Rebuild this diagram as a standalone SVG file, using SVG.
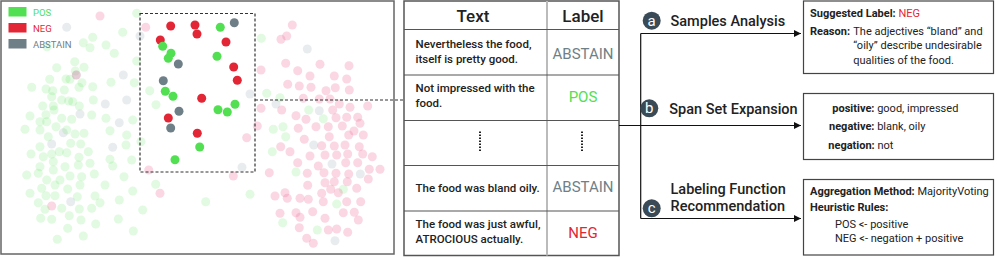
<svg xmlns="http://www.w3.org/2000/svg" width="997" height="257" viewBox="0 0 997 257">
<defs>
<marker id="arr" markerWidth="8" markerHeight="8" refX="7" refY="4" orient="auto" markerUnits="userSpaceOnUse">
<path d="M0,0.5 L7,4 L0,7.5 Z" fill="#111"/>
</marker>
</defs>
<style>
text{font-family:Roboto,"Liberation Sans",sans-serif;fill:#222}
.pg{fill:#4de04d;fill-opacity:.17}
.pp{fill:#f07aa0;fill-opacity:.3}
.px{fill:#9aa8b0;fill-opacity:.22}
.g{fill:#52e052}
.r{fill:#e32636}
.k{fill:#6f7f88}
.tb{font-size:11.5px;font-weight:500}
.lab{font-size:15px;text-anchor:middle}
.hd{font-size:17px;font-weight:500;text-anchor:middle}
.ttl{font-size:14.5px;font-weight:500}
.bx{fill:#fff;stroke:#444;stroke-width:1.2}
.bt{font-size:11px}
.bb{font-weight:700}
.badge{fill:#3a4b57}
.bl{fill:#fff;font-size:15px;text-anchor:middle}
.conn{fill:none;stroke:#111;stroke-width:1.2}
</style>
<rect width="997" height="257" fill="#fff"/>
<g id="scatter">
<rect x="1" y="1" width="393" height="253" fill="#fff" stroke="#666" stroke-width="1.5"/>
<g id="faint-dots">
<circle class="pp" cx="100" cy="16" r="4.5"/>
<circle class="pg" cx="136.7" cy="13.3" r="4.5"/>
<circle class="px" cx="66.7" cy="27.3" r="4.5"/>
<circle class="pp" cx="145.7" cy="27.3" r="4.5"/>
<circle class="pg" cx="122.7" cy="32.3" r="4.5"/>
<circle class="px" cx="140" cy="36" r="4.5"/>
<circle class="pg" cx="92.7" cy="37.3" r="4.5"/>
<circle class="pg" cx="83.3" cy="42.7" r="4.5"/>
<circle class="pg" cx="90" cy="47.7" r="4.5"/>
<circle class="pg" cx="106" cy="45" r="4.5"/>
<circle class="pg" cx="114.3" cy="53.3" r="4.5"/>
<circle class="pg" cx="47" cy="46.7" r="4.5"/>
<circle class="pg" cx="136.7" cy="61" r="4.5"/>
<circle class="pg" cx="74.7" cy="61.7" r="4.5"/>
<circle class="pg" cx="56.7" cy="67.7" r="4.5"/>
<circle class="pg" cx="84" cy="67.3" r="4.5"/>
<circle class="pg" cx="75.3" cy="71" r="4.5"/>
<circle class="pp" cx="76.3" cy="75" r="4.5"/>
<circle class="px" cx="76.3" cy="75" r="4.5"/>
<circle class="pg" cx="49.7" cy="79.3" r="4.5"/>
<circle class="pg" cx="66" cy="79" r="4.5"/>
<circle class="pg" cx="70" cy="79.3" r="4.5"/>
<circle class="pg" cx="82" cy="82.7" r="4.5"/>
<circle class="px" cx="123.3" cy="75" r="4.5"/>
<circle class="pg" cx="111" cy="82.3" r="4.5"/>
<circle class="pg" cx="134.3" cy="82.7" r="4.5"/>
<circle class="pg" cx="31.7" cy="87.3" r="4.5"/>
<circle class="pg" cx="46" cy="89" r="4.5"/>
<circle class="pg" cx="52.7" cy="90.7" r="4.5"/>
<circle class="pg" cx="64.3" cy="90" r="4.5"/>
<circle class="pg" cx="79" cy="87.3" r="4.5"/>
<circle class="pg" cx="92.7" cy="86.7" r="4.5"/>
<circle class="pg" cx="149.7" cy="90.7" r="4.5"/>
<circle class="pg" cx="51.7" cy="96.7" r="4.5"/>
<circle class="pg" cx="61.7" cy="100" r="4.5"/>
<circle class="pg" cx="68.7" cy="101" r="4.5"/>
<circle class="pg" cx="72.7" cy="101.7" r="4.5"/>
<circle class="pg" cx="93.3" cy="100" r="4.5"/>
<circle class="pg" cx="53.3" cy="106" r="4.5"/>
<circle class="pg" cx="42.7" cy="106" r="4.5"/>
<circle class="pg" cx="79.3" cy="106" r="4.5"/>
<circle class="px" cx="105.3" cy="104" r="4.5"/>
<circle class="px" cx="126.7" cy="100" r="4.5"/>
<circle class="pg" cx="156" cy="104.7" r="4.5"/>
<circle class="pg" cx="30" cy="116" r="4.5"/>
<circle class="pg" cx="46" cy="114.7" r="4.5"/>
<circle class="pg" cx="54" cy="110" r="4.5"/>
<circle class="pg" cx="40" cy="121.7" r="4.5"/>
<circle class="pg" cx="61.7" cy="118.3" r="4.5"/>
<circle class="pg" cx="71.7" cy="119.3" r="4.5"/>
<circle class="px" cx="80" cy="114" r="4.5"/>
<circle class="pg" cx="91.7" cy="115" r="4.5"/>
<circle class="pg" cx="106" cy="118.3" r="4.5"/>
<circle class="px" cx="119.3" cy="122.7" r="4.5"/>
<circle class="pg" cx="132.7" cy="120" r="4.5"/>
<circle class="pg" cx="46.7" cy="121.7" r="4.5"/>
<circle class="pg" cx="25" cy="129.3" r="4.5"/>
<circle class="pg" cx="40" cy="130" r="4.5"/>
<circle class="pg" cx="56" cy="126.7" r="4.5"/>
<circle class="px" cx="63.3" cy="132.7" r="4.5"/>
<circle class="pg" cx="66.7" cy="130" r="4.5"/>
<circle class="pg" cx="75" cy="134" r="4.5"/>
<circle class="pg" cx="84" cy="133.3" r="4.5"/>
<circle class="pg" cx="110" cy="130.7" r="4.5"/>
<circle class="pg" cx="126.7" cy="135" r="4.5"/>
<circle class="pg" cx="141" cy="141.7" r="4.5"/>
<circle class="pg" cx="48.3" cy="136.7" r="4.5"/>
<circle class="pg" cx="40" cy="146.7" r="4.5"/>
<circle class="px" cx="51.7" cy="144" r="4.5"/>
<circle class="pg" cx="70.7" cy="143.3" r="4.5"/>
<circle class="pg" cx="80.7" cy="144" r="4.5"/>
<circle class="px" cx="112.7" cy="147.3" r="4.5"/>
<circle class="pg" cx="126" cy="145" r="4.5"/>
<circle class="pg" cx="31" cy="154" r="4.5"/>
<circle class="pg" cx="43.3" cy="156.7" r="4.5"/>
<circle class="pg" cx="51.7" cy="154" r="4.5"/>
<circle class="pg" cx="59.3" cy="151.7" r="4.5"/>
<circle class="pg" cx="66.7" cy="152.7" r="4.5"/>
<circle class="pg" cx="79" cy="157.3" r="4.5"/>
<circle class="pg" cx="88.3" cy="151.7" r="4.5"/>
<circle class="pg" cx="110" cy="159.3" r="4.5"/>
<circle class="pg" cx="131.7" cy="160" r="4.5"/>
<circle class="pg" cx="40" cy="166.7" r="4.5"/>
<circle class="pg" cx="53.3" cy="161.7" r="4.5"/>
<circle class="pg" cx="65" cy="166.7" r="4.5"/>
<circle class="pg" cx="78.3" cy="165" r="4.5"/>
<circle class="pg" cx="90" cy="163.3" r="4.5"/>
<circle class="pg" cx="112.7" cy="166" r="4.5"/>
<circle class="pg" cx="26.7" cy="175" r="4.5"/>
<circle class="pg" cx="38.3" cy="173.3" r="4.5"/>
<circle class="pg" cx="46.7" cy="180" r="4.5"/>
<circle class="pg" cx="53.3" cy="170" r="4.5"/>
<circle class="pg" cx="60" cy="180" r="4.5"/>
<circle class="pg" cx="70" cy="176" r="4.5"/>
<circle class="pg" cx="81.7" cy="176.7" r="4.5"/>
<circle class="pg" cx="94.3" cy="174" r="4.5"/>
<circle class="pg" cx="124" cy="176.7" r="4.5"/>
<circle class="pg" cx="41.7" cy="188.3" r="4.5"/>
<circle class="pg" cx="55" cy="185" r="4.5"/>
<circle class="pg" cx="67.7" cy="189" r="4.5"/>
<circle class="pg" cx="80" cy="185" r="4.5"/>
<circle class="pg" cx="105" cy="185" r="4.5"/>
<circle class="pg" cx="132.7" cy="191" r="4.5"/>
<circle class="pg" cx="155.7" cy="184.3" r="4.5"/>
<circle class="pg" cx="30" cy="193.3" r="4.5"/>
<circle class="pg" cx="46" cy="195.7" r="4.5"/>
<circle class="pg" cx="55" cy="195.7" r="4.5"/>
<circle class="pg" cx="77.3" cy="196.7" r="4.5"/>
<circle class="pg" cx="95" cy="196" r="4.5"/>
<circle class="pg" cx="119.3" cy="200" r="4.5"/>
<circle class="px" cx="70.7" cy="201.7" r="4.5"/>
<circle class="pp" cx="51.7" cy="206" r="4.5"/>
<circle class="pg" cx="38.3" cy="202.7" r="4.5"/>
<circle class="pg" cx="100" cy="202.7" r="4.5"/>
<circle class="pp" cx="160" cy="193.3" r="4.5"/>
<circle class="pg" cx="205.7" cy="201.7" r="4.5"/>
<circle class="pg" cx="250" cy="194.3" r="4.5"/>
<circle class="pg" cx="45" cy="209.3" r="4.5"/>
<circle class="pg" cx="61.7" cy="208.3" r="4.5"/>
<circle class="pg" cx="79.3" cy="209" r="4.5"/>
<circle class="pg" cx="91.7" cy="208.3" r="4.5"/>
<circle class="pg" cx="142.7" cy="210" r="4.5"/>
<circle class="pg" cx="40.7" cy="218.3" r="4.5"/>
<circle class="pg" cx="51.7" cy="219.3" r="4.5"/>
<circle class="pg" cx="69.3" cy="215.7" r="4.5"/>
<circle class="pg" cx="81" cy="220" r="4.5"/>
<circle class="pg" cx="95.7" cy="224" r="4.5"/>
<circle class="pg" cx="118.3" cy="219" r="4.5"/>
<circle class="pg" cx="67.7" cy="228.3" r="4.5"/>
<circle class="pg" cx="83.3" cy="236" r="4.5"/>
<circle class="pg" cx="57.3" cy="239.3" r="4.5"/>
<circle class="pg" cx="133.3" cy="231" r="4.5"/>
<circle class="pp" cx="292.3" cy="25" r="4.5"/>
<circle class="pp" cx="286.7" cy="36" r="4.5"/>
<circle class="pp" cx="281" cy="39.3" r="4.5"/>
<circle class="pg" cx="261.3" cy="38.3" r="4.5"/>
<circle class="px" cx="307.3" cy="49" r="4.5"/>
<circle class="pp" cx="285.7" cy="63.3" r="4.5"/>
<circle class="pp" cx="320" cy="64.3" r="4.5"/>
<circle class="pp" cx="349" cy="65.7" r="4.5"/>
<circle class="pp" cx="261" cy="70" r="4.5"/>
<circle class="pp" cx="297.7" cy="70.7" r="4.5"/>
<circle class="pp" cx="310" cy="76" r="4.5"/>
<circle class="pp" cx="334.3" cy="76" r="4.5"/>
<circle class="pp" cx="346.7" cy="79" r="4.5"/>
<circle class="pp" cx="287.7" cy="84.3" r="4.5"/>
<circle class="pp" cx="299.3" cy="86" r="4.5"/>
<circle class="pp" cx="311" cy="87.3" r="4.5"/>
<circle class="pp" cx="326" cy="90.7" r="4.5"/>
<circle class="pp" cx="335.3" cy="87.7" r="4.5"/>
<circle class="pp" cx="349.3" cy="90" r="4.5"/>
<circle class="pg" cx="266.7" cy="93.3" r="4.5"/>
<circle class="px" cx="250" cy="94" r="4.5"/>
<circle class="pg" cx="280" cy="97.7" r="4.5"/>
<circle class="pp" cx="303.3" cy="98.3" r="4.5"/>
<circle class="pp" cx="319.3" cy="99" r="4.5"/>
<circle class="pp" cx="330" cy="99" r="4.5"/>
<circle class="pp" cx="339.3" cy="104" r="4.5"/>
<circle class="pp" cx="350" cy="107.3" r="4.5"/>
<circle class="pp" cx="367.7" cy="106" r="4.5"/>
<circle class="pp" cx="261" cy="108.3" r="4.5"/>
<circle class="px" cx="276" cy="104" r="4.5"/>
<circle class="pp" cx="281.7" cy="110" r="4.5"/>
<circle class="pg" cx="308.7" cy="110" r="4.5"/>
<circle class="px" cx="319.3" cy="110.7" r="4.5"/>
<circle class="pp" cx="332.7" cy="110" r="4.5"/>
<circle class="pp" cx="296" cy="115.7" r="4.5"/>
<circle class="pp" cx="306" cy="119.3" r="4.5"/>
<circle class="pg" cx="323.3" cy="118.7" r="4.5"/>
<circle class="pp" cx="336" cy="117.7" r="4.5"/>
<circle class="pp" cx="346.7" cy="117.3" r="4.5"/>
<circle class="pp" cx="357.7" cy="117.3" r="4.5"/>
<circle class="pp" cx="360" cy="123.3" r="4.5"/>
<circle class="pp" cx="257.3" cy="126" r="4.5"/>
<circle class="pg" cx="273.3" cy="129.3" r="4.5"/>
<circle class="pg" cx="283" cy="126.7" r="4.5"/>
<circle class="pp" cx="298.3" cy="128.3" r="4.5"/>
<circle class="pp" cx="316" cy="126.7" r="4.5"/>
<circle class="pp" cx="328.3" cy="126.7" r="4.5"/>
<circle class="pp" cx="342.3" cy="126" r="4.5"/>
<circle class="pp" cx="354" cy="131" r="4.5"/>
<circle class="pg" cx="285.7" cy="136.7" r="4.5"/>
<circle class="pp" cx="246.7" cy="137.7" r="4.5"/>
<circle class="pp" cx="304.3" cy="139.3" r="4.5"/>
<circle class="pp" cx="329.3" cy="136.7" r="4.5"/>
<circle class="pp" cx="348.7" cy="135" r="4.5"/>
<circle class="pp" cx="363.3" cy="135" r="4.5"/>
<circle class="px" cx="313.7" cy="145" r="4.5"/>
<circle class="pp" cx="321.7" cy="145.7" r="4.5"/>
<circle class="pp" cx="334.3" cy="146" r="4.5"/>
<circle class="pp" cx="345" cy="145" r="4.5"/>
<circle class="pp" cx="359.3" cy="146.7" r="4.5"/>
<circle class="pp" cx="280.7" cy="146.7" r="4.5"/>
<circle class="pg" cx="272.3" cy="151.7" r="4.5"/>
<circle class="pp" cx="290" cy="151.7" r="4.5"/>
<circle class="pp" cx="310" cy="156" r="4.5"/>
<circle class="pp" cx="325" cy="155" r="4.5"/>
<circle class="pp" cx="336.7" cy="155" r="4.5"/>
<circle class="pp" cx="347.7" cy="154" r="4.5"/>
<circle class="pp" cx="362.7" cy="154" r="4.5"/>
<circle class="pp" cx="372.3" cy="156.7" r="4.5"/>
<circle class="pp" cx="297.7" cy="162.7" r="4.5"/>
<circle class="pp" cx="318.3" cy="166" r="4.5"/>
<circle class="px" cx="332" cy="164" r="4.5"/>
<circle class="pp" cx="345.7" cy="162.7" r="4.5"/>
<circle class="pp" cx="357.7" cy="162.7" r="4.5"/>
<circle class="pp" cx="369.3" cy="169.3" r="4.5"/>
<circle class="pp" cx="380" cy="169.3" r="4.5"/>
<circle class="pp" cx="269.3" cy="172.7" r="4.5"/>
<circle class="pg" cx="296" cy="172" r="4.5"/>
<circle class="pp" cx="307.3" cy="173.3" r="4.5"/>
<circle class="pp" cx="324" cy="172.7" r="4.5"/>
<circle class="pp" cx="336" cy="173.3" r="4.5"/>
<circle class="pp" cx="348.7" cy="174" r="4.5"/>
<circle class="px" cx="360.3" cy="174" r="4.5"/>
<circle class="px" cx="242" cy="167.3" r="4.5"/>
<circle class="pp" cx="233.3" cy="176" r="4.5"/>
<circle class="pp" cx="148.7" cy="170" r="4.5"/>
<circle class="pp" cx="334.3" cy="181.7" r="4.5"/>
<circle class="pp" cx="368.3" cy="179" r="4.5"/>
<circle class="pp" cx="325" cy="182.7" r="4.5"/>
<circle class="pp" cx="307.7" cy="185.3" r="4.5"/>
<circle class="pp" cx="347.3" cy="181.7" r="4.5"/>
<circle class="pp" cx="330.7" cy="189.3" r="4.5"/>
<circle class="pg" cx="343.3" cy="189.3" r="4.5"/>
<circle class="pp" cx="356.7" cy="188.3" r="4.5"/>
<circle class="pp" cx="338.3" cy="192.7" r="4.5"/>
<circle class="pp" cx="275" cy="196" r="4.5"/>
<circle class="pp" cx="285" cy="192.7" r="4.5"/>
<circle class="pp" cx="287.3" cy="198.3" r="4.5"/>
<circle class="pp" cx="300" cy="198.3" r="4.5"/>
<circle class="pp" cx="308.3" cy="199.3" r="4.5"/>
<circle class="pp" cx="321.7" cy="193.3" r="4.5"/>
<circle class="pp" cx="323.3" cy="201.7" r="4.5"/>
<circle class="pp" cx="346.7" cy="201.7" r="4.5"/>
<circle class="pp" cx="360.7" cy="201.7" r="4.5"/>
<circle class="pg" cx="336.7" cy="204" r="4.5"/>
<circle class="pp" cx="280" cy="213.3" r="4.5"/>
<circle class="pp" cx="296" cy="212.7" r="4.5"/>
<circle class="pp" cx="300" cy="217.3" r="4.5"/>
<circle class="pp" cx="312.7" cy="211.7" r="4.5"/>
<circle class="pp" cx="325" cy="218.3" r="4.5"/>
<circle class="pp" cx="343.3" cy="212.7" r="4.5"/>
<circle class="pp" cx="354.3" cy="212.3" r="4.5"/>
<circle class="pp" cx="358.3" cy="220" r="4.5"/>
<circle class="pg" cx="282.7" cy="222.7" r="4.5"/>
<circle class="pp" cx="299.3" cy="227.7" r="4.5"/>
<circle class="pg" cx="317.3" cy="230" r="4.5"/>
<circle class="pp" cx="328.3" cy="230" r="4.5"/>
<circle class="pp" cx="336.7" cy="229" r="4.5"/>
<circle class="pp" cx="347.7" cy="232.3" r="4.5"/>
<circle class="pp" cx="306.7" cy="238.3" r="4.5"/>
<circle class="pp" cx="313.3" cy="243.3" r="4.5"/>
<circle class="px" cx="335" cy="240.7" r="4.5"/>
</g>
<rect x="140" y="13.5" width="115" height="158.5" fill="none" stroke="#333" stroke-width="1.2" stroke-dasharray="3,2"/>
<g id="selected-dots">
<circle class="r" cx="170.7" cy="26" r="4.5"/>
<circle class="r" cx="195" cy="25" r="4.5"/>
<circle class="r" cx="197" cy="34" r="4.5"/>
<circle class="r" cx="160.3" cy="40" r="4.5"/>
<circle class="r" cx="226" cy="42" r="4.5"/>
<circle class="r" cx="233.7" cy="67" r="4.5"/>
<circle class="r" cx="237.3" cy="80.3" r="4.5"/>
<circle class="r" cx="201.7" cy="98.3" r="4.5"/>
<circle class="r" cx="168.3" cy="118" r="4.5"/>
<circle class="r" cx="197.3" cy="133.3" r="4.5"/>
<circle class="g" cx="220.3" cy="27.3" r="4.5"/>
<circle class="g" cx="162.7" cy="46.3" r="4.5"/>
<circle class="g" cx="171" cy="53.3" r="4.5"/>
<circle class="g" cx="168.3" cy="58.3" r="4.5"/>
<circle class="g" cx="217" cy="56.3" r="4.5"/>
<circle class="g" cx="165.3" cy="91.3" r="4.5"/>
<circle class="g" cx="173" cy="96.3" r="4.5"/>
<circle class="g" cx="218" cy="109.7" r="4.5"/>
<circle class="g" cx="227.3" cy="112" r="4.5"/>
<circle class="g" cx="235" cy="104.3" r="4.5"/>
<circle class="g" cx="199.7" cy="147" r="4.5"/>
<circle class="g" cx="175" cy="159.7" r="4.5"/>
<circle class="k" cx="234.3" cy="22.7" r="4.5"/>
<circle class="k" cx="178.3" cy="64" r="4.5"/>
<circle class="k" cx="163.3" cy="80.7" r="4.5"/>
<circle class="k" cx="179" cy="111.3" r="4.5"/>
<circle class="k" cx="170.7" cy="128" r="4.5"/>
</g>
<g id="legend">
<rect x="8.5" y="7" width="18" height="9.5" class="g"/>
<text x="33" y="15.5" font-size="9.5" style="fill:#52e052">POS</text>
<rect x="8.5" y="23" width="18" height="9.5" class="r"/>
<text x="33" y="31.5" font-size="9.5" style="fill:#e32636">NEG</text>
<rect x="8.5" y="39" width="18" height="9.5" class="k"/>
<text x="33" y="47.5" font-size="9.5" style="fill:#6f7f88">ABSTAIN</text>
</g>
</g>
<g id="table">
<rect x="404" y="1" width="215" height="254.5" fill="#fff" stroke="#555" stroke-width="1.5"/>
<line x1="547" y1="1" x2="547" y2="255.5" stroke="#bbb" stroke-width="2"/>
<g stroke="#555" stroke-width="1.2">
<line x1="404" y1="29.5" x2="619" y2="29.5"/>
<line x1="404" y1="75" x2="619" y2="75"/>
<line x1="404" y1="120.5" x2="619" y2="120.5"/>
<line x1="404" y1="165.5" x2="619" y2="165.5"/>
<line x1="404" y1="211" x2="619" y2="211"/>
</g>
<text class="hd" x="473" y="21.5">Text</text>
<text class="hd" x="583" y="21.5">Label</text>
<text class="tb" x="415.5" y="47.5">Nevertheless the food,</text>
<text class="tb" x="415.5" y="62.5">itself is pretty good.</text>
<text class="lab" x="583" y="58.5" style="fill:#6f7f88">ABSTAIN</text>
<text class="tb" x="415.5" y="91.7">Not impressed with the</text>
<text class="tb" x="415.5" y="106.7">food.</text>
<text class="lab" x="583" y="102" style="fill:#52e052">POS</text>
<g stroke="#222" stroke-width="2" stroke-dasharray="1.5,1.5">
<line x1="480" y1="131.5" x2="480" y2="152"/>
<line x1="582" y1="131.5" x2="582" y2="152"/>
</g>
<text class="tb" x="415.5" y="191.7">The food was bland oily.</text>
<text class="lab" x="583" y="192.3" style="fill:#6f7f88">ABSTAIN</text>
<text class="tb" x="415.5" y="228">The food was just awful,</text>
<text class="tb" x="415.5" y="243.3">ATROCIOUS actually.</text>
<text class="lab" x="583" y="238.3" style="fill:#e32636">NEG</text>
</g>
<g id="connectors">
<path d="M255,100 H404" fill="none" stroke="#333" stroke-width="1.2" stroke-dasharray="3,2"/>
<path class="conn" d="M619,125.5 H801" marker-end="url(#arr)"/>
<path class="conn" d="M640.7,33.5 V218.5"/>
<path class="conn" d="M640.7,33.5 H801" marker-end="url(#arr)"/>
<path class="conn" d="M640.7,218.5 H801" marker-end="url(#arr)"/>
</g>
<g id="node-a">
<circle class="badge" cx="651.7" cy="20.7" r="9"/>
<text class="bl" x="651.7" y="25.8">a</text>
<text class="ttl" x="670.5" y="25.5">Samples Analysis</text>
<rect class="bx" x="803.5" y="1" width="190" height="72.5"/>
<text class="bt" x="810" y="16.7"><tspan class="bb">Suggested Label:</tspan> <tspan style="fill:#e32636">NEG</tspan></text>
<text class="bt bb" x="810" y="35">Reason:</text>
<text class="bt" x="853.3" y="35">The adjectives “bland” and</text>
<text class="bt" x="853.3" y="49.3">“oily” describe undesirable</text>
<text class="bt" x="853.3" y="64">qualities of the food.</text>
</g>
<g id="node-b">
<circle class="badge" cx="649.3" cy="108.3" r="9"/>
<text class="bl" x="649.3" y="113.4">b</text>
<text class="ttl" x="669.3" y="113.5">Span Set Expansion</text>
<rect class="bx" x="803.5" y="93.5" width="190" height="66"/>
<text class="bt" x="832.3" y="112"><tspan class="bb">positive:</tspan> good, impressed</text>
<text class="bt" x="829" y="129.5"><tspan class="bb">negative:</tspan> blank, oily</text>
<text class="bt" x="828.3" y="148.5"><tspan class="bb">negation:</tspan> not</text>
</g>
<g id="node-c">
<circle class="badge" cx="651.7" cy="208.3" r="9"/>
<text class="bl" x="651.7" y="213.4">c</text>
<text class="ttl" x="670.5" y="194">Labeling Function</text>
<text class="ttl" x="670.5" y="210.5">Recommendation</text>
<rect class="bx" x="803.5" y="179.5" width="190" height="75.5"/>
<text class="bt" x="810" y="195"><tspan class="bb">Aggregation Method:</tspan> MajorityVoting</text>
<text class="bt bb" x="810" y="211">Heuristic Rules:</text>
<text class="bt" x="835" y="228.3">POS &lt;- positive</text>
<text class="bt" x="835" y="242">NEG &lt;- negation + positive</text>
</g>
</svg>
